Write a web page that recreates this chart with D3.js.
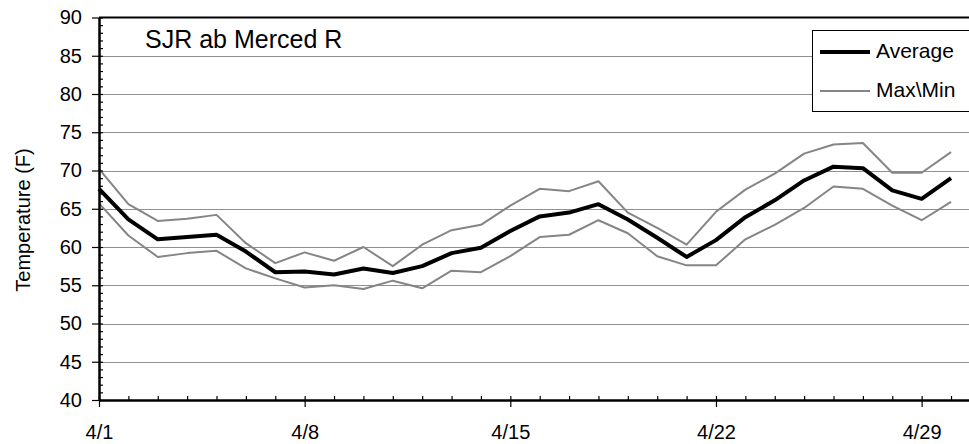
<!DOCTYPE html>
<html>
<head>
<meta charset="utf-8">
<script src="https://cdn.jsdelivr.net/npm/d3@7/dist/d3.min.js"></script>
<style>
  html, body { margin: 0; padding: 0; background: #fff; }
  svg { display: block; font-family: "Liberation Sans", Arial, sans-serif; }
</style>
</head>
<body>
<svg id="chart" width="969" height="444"></svg>
<script>
// ---- data ----
const days = [1,2,3,4,5,6,7,8,9,10,11,12,13,14,15,16,17,18,19,20,21,22,23,24,25,26,27,28,29,30];
const average = [67.6,63.6,61.0,61.3,61.6,59.4,56.7,56.8,56.4,57.2,56.6,57.5,59.2,59.9,62.1,64.0,64.5,65.6,63.6,61.2,58.7,60.9,63.9,66.1,68.7,70.5,70.3,67.4,66.3,69.0];
const maxT    = [70.2,65.6,63.4,63.7,64.2,60.5,57.9,59.3,58.2,60.0,57.5,60.3,62.2,62.9,65.4,67.6,67.3,68.6,64.5,62.5,60.3,64.6,67.5,69.6,72.2,73.4,73.6,69.7,69.7,72.4];
const minT    = [65.7,61.5,58.7,59.2,59.5,57.2,55.9,54.7,55.0,54.5,55.6,54.6,56.9,56.7,58.8,61.3,61.6,63.5,61.8,58.8,57.6,57.6,61.0,62.9,65.1,67.9,67.6,65.4,63.5,65.9];
const xTickDays = [1, 8, 15, 22, 29];
const xTickLabels = ["4/1", "4/8", "4/15", "4/22", "4/29"];
const yTicks = [40,45,50,55,60,65,70,75,80,85,90];
const title = "SJR ab Merced R";
const yTitle = "Temperature (F)";
const legendLabels = ["Average", "Max\\Min"];

// ---- layout ----
const svg = d3.select("#chart");
const pLeft = 99, pRight = 969, pTop = 17.5, pBottom = 400;
const dayPx = 29.38;
const x = d3.scaleLinear().domain([1, 1 + (pRight - pLeft) / dayPx]).range([pLeft, pRight]);
const y = d3.scaleLinear().domain([40, 90]).range([pBottom, pTop]);

// gridlines
svg.append("g").selectAll("line").data(yTicks.filter(v => v > 40 && v < 90)).join("line")
  .attr("x1", pLeft).attr("x2", pRight)
  .attr("y1", d => Math.round(y(d)) + 0.5).attr("y2", d => Math.round(y(d)) + 0.5)
  .attr("stroke", "#909090").attr("stroke-width", 1);

// top border
svg.append("line").attr("x1", pLeft).attr("x2", pRight).attr("y1", y(90)).attr("y2", y(90))
  .attr("stroke", "#000").attr("stroke-width", 2);

// lines
const line = d3.line().x((d, i) => x(days[i])).y(d => y(d));
svg.append("path").datum(maxT).attr("d", line).attr("fill", "none")
  .attr("stroke", "#858585").attr("stroke-width", 2).attr("stroke-linejoin", "round");
svg.append("path").datum(minT).attr("d", line).attr("fill", "none")
  .attr("stroke", "#858585").attr("stroke-width", 2).attr("stroke-linejoin", "round");
svg.append("path").datum(average).attr("d", line).attr("fill", "none")
  .attr("stroke", "#000").attr("stroke-width", 4).attr("stroke-linejoin", "round");

// y axis minor ticks (inside)
const yMinor = d3.range(41, 90).filter(v => v % 5 !== 0);
svg.append("g").attr("transform", `translate(${pLeft},0)`)
  .call(d3.axisRight(y).tickValues(yMinor).tickSize(4).tickFormat(""))
  .call(g => g.select(".domain").remove())
  .call(g => g.selectAll("line").attr("stroke-width", 1.2));

// y axis major
const yAxis = svg.append("g").attr("transform", `translate(${pLeft},0)`)
  .call(d3.axisLeft(y).tickValues(yTicks).tickSize(7).tickPadding(10).tickSizeOuter(0));
yAxis.select(".domain").attr("stroke-width", 2.5);
yAxis.selectAll(".tick line").attr("x2", -7).attr("x1", 4).attr("stroke-width", 1.2);
yAxis.selectAll("text").attr("font-size", 20).attr("fill", "#000")
  .style("font-family", "Liberation Sans, Arial, sans-serif");

// x axis minor ticks (inside)
const xMinor = days.filter(d => !xTickDays.includes(d));
svg.append("g").attr("transform", `translate(0,${pBottom})`)
  .call(d3.axisTop(x).tickValues(xMinor).tickSize(4).tickFormat(""))
  .call(g => g.select(".domain").remove())
  .call(g => g.selectAll("line").attr("stroke-width", 1.2));

// x axis major
const xAxis = svg.append("g").attr("transform", `translate(0,${pBottom})`)
  .call(d3.axisBottom(x).tickValues(xTickDays).tickSize(7).tickPadding(18).tickSizeOuter(0)
    .tickFormat((d, i) => xTickLabels[i]));
xAxis.select(".domain").attr("stroke-width", 2.5);
xAxis.selectAll(".tick line").attr("y1", -4).attr("y2", 7).attr("stroke-width", 1.2);
xAxis.selectAll("text").attr("font-size", 20).attr("fill", "#000")
  .style("font-family", "Liberation Sans, Arial, sans-serif");

// y title
svg.append("text").attr("transform", "translate(30,220) rotate(-90)")
  .attr("text-anchor", "middle").attr("font-size", 20).attr("fill", "#000").text(yTitle);

// chart title
svg.append("text").attr("x", 145).attr("y", 48).attr("font-size", 25).attr("fill", "#000").text(title);

// legend
const lg = svg.append("g");
lg.append("rect").attr("x", 812.5).attr("y", 30.5).attr("width", 170).attr("height", 81)
  .attr("fill", "#fff").attr("stroke", "#000").attr("stroke-width", 1);
lg.append("line").attr("x1", 820).attr("x2", 870).attr("y1", 52).attr("y2", 52)
  .attr("stroke", "#000").attr("stroke-width", 4);
lg.append("line").attr("x1", 820).attr("x2", 870).attr("y1", 91).attr("y2", 91)
  .attr("stroke", "#858585").attr("stroke-width", 2);
lg.append("text").attr("x", 876).attr("y", 57.5).attr("font-size", 21).attr("fill", "#000").text(legendLabels[0]);
lg.append("text").attr("x", 876).attr("y", 97).attr("font-size", 21).attr("fill", "#000").text(legendLabels[1]);
</script>
</body>
</html>
